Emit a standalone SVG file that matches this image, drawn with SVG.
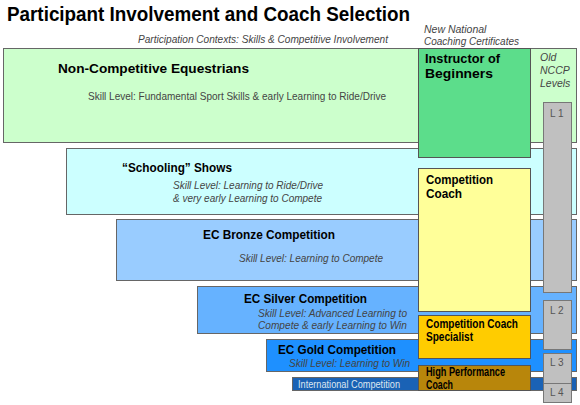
<svg xmlns="http://www.w3.org/2000/svg" width="580" height="405" viewBox="0 0 580 405">
<style>
text{font-family:"Liberation Sans",Arial,sans-serif}
.band{stroke:#666;stroke-width:1}
.box{stroke:#555;stroke-width:1}
.lv{fill:#C0C0C0;stroke:#777;stroke-width:1}
.h{font-weight:bold;font-size:13px;fill:#000}
.hc{font-weight:bold;font-size:12px;fill:#000}
.s{font-size:10.5px;fill:#444}
.si{font-size:10.5px;fill:#444;font-style:italic}
.lt{font-size:10px;fill:#555}
</style>
<rect width="580" height="405" fill="#fff"/>
<text x="7" y="21" font-weight="bold" font-size="21" fill="#000" textLength="403" lengthAdjust="spacingAndGlyphs">Participant Involvement and Coach Selection</text>
<text x="138" y="43" class="si" textLength="250" lengthAdjust="spacingAndGlyphs">Participation Contexts: Skills &amp; Competitive Involvement</text>
<text x="424" y="33" class="si">New National</text>
<text x="424" y="45" class="si" textLength="95" lengthAdjust="spacingAndGlyphs">Coaching Certificates</text>

<g id="band-noncompetitive">
<rect class="band" x="3.5" y="48.5" width="573" height="94" fill="#CCFFCC"/>
<text x="58" y="73" class="h" textLength="191" lengthAdjust="spacingAndGlyphs">Non-Competitive Equestrians</text>
<text x="88" y="100" class="s" textLength="298" lengthAdjust="spacingAndGlyphs">Skill Level: Fundamental Sport Skills &amp; early Learning to Ride/Drive</text>
</g>
<g id="band-schooling">
<rect class="band" x="66.5" y="148.5" width="510" height="66" fill="#CCFFFF"/>
<text x="122" y="172" class="h" textLength="110" lengthAdjust="spacingAndGlyphs">“Schooling” Shows</text>
<text x="173" y="189" class="si" textLength="150" lengthAdjust="spacingAndGlyphs">Skill Level: Learning to Ride/Drive</text>
<text x="173" y="202" class="si" textLength="149" lengthAdjust="spacingAndGlyphs">&amp; very early Learning to Compete</text>
</g>
<g id="band-bronze">
<rect class="band" x="116.5" y="219.5" width="460" height="61" fill="#99CCFF"/>
<text x="203" y="239" class="h" textLength="132" lengthAdjust="spacingAndGlyphs">EC Bronze Competition</text>
<text x="239" y="262" class="si" textLength="144" lengthAdjust="spacingAndGlyphs">Skill Level: Learning to Compete</text>
</g>
<g id="band-silver">
<rect class="band" x="197.5" y="286.5" width="379" height="47" fill="#66B2FF"/>
<text x="244" y="303" class="h" textLength="123" lengthAdjust="spacingAndGlyphs">EC Silver Competition</text>
<text x="258" y="317" class="si" textLength="149" lengthAdjust="spacingAndGlyphs">Skill Level: Advanced Learning to</text>
<text x="258" y="329" class="si" textLength="149" lengthAdjust="spacingAndGlyphs">Compete &amp; early Learning to Win</text>
</g>
<g id="band-gold">
<rect class="band" x="266.5" y="339.5" width="310" height="32" fill="#1E90FF"/>
<text x="278" y="354" class="h" textLength="118" lengthAdjust="spacingAndGlyphs">EC Gold Competition</text>
<text x="289" y="367" class="si" fill="#333" textLength="121" lengthAdjust="spacingAndGlyphs">Skill Level: Learning to Win</text>
</g>
<g id="band-international">
<rect class="band" x="292.5" y="377.5" width="284" height="13" fill="#1A62B5"/>
<text x="298" y="388" font-size="10" fill="#DDE6F0" textLength="102" lengthAdjust="spacingAndGlyphs">International Competition</text>
</g>

<g id="coach-instructor">
<rect class="box" x="418.5" y="48.5" width="112" height="109" fill="#5CDD8B"/>
<text x="425" y="63" class="h" textLength="75" lengthAdjust="spacingAndGlyphs">Instructor of</text>
<text x="425" y="78" class="h" textLength="68" lengthAdjust="spacingAndGlyphs">Beginners</text>
</g>
<g id="coach-competition">
<rect class="box" x="418.5" y="168.5" width="112" height="143" fill="#FFFF99"/>
<text x="426" y="184" class="hc" textLength="67" lengthAdjust="spacingAndGlyphs">Competition</text>
<text x="426" y="198" class="hc" textLength="36" lengthAdjust="spacingAndGlyphs">Coach</text>
</g>
<g id="coach-specialist">
<rect class="box" x="418.5" y="315.5" width="112" height="43" fill="#FFCC00"/>
<text x="426" y="328" class="hc" font-size="11.5" textLength="92" lengthAdjust="spacingAndGlyphs">Competition Coach</text>
<text x="426" y="341" class="hc" font-size="11.5" textLength="47" lengthAdjust="spacingAndGlyphs">Specialist</text>
</g>
<g id="coach-highperformance">
<rect class="box" x="418.5" y="365.5" width="112" height="25" fill="#B8860B"/>
<text x="426" y="376" class="hc" font-size="10" textLength="79" lengthAdjust="spacingAndGlyphs">High Performance</text>
<text x="426" y="389" class="hc" font-size="10" textLength="27" lengthAdjust="spacingAndGlyphs">Coach</text>
</g>

<g id="old-nccp">
<text x="540" y="61" class="si">Old</text>
<text x="540" y="74" class="si">NCCP</text>
<text x="540" y="87" class="si">Levels</text>
</g>
<g id="level-1">
<rect class="lv" x="543.5" y="102.5" width="28" height="190"/>
<text x="550" y="117" class="lt">L 1</text>
</g>
<g id="level-2">
<rect class="lv" x="543.5" y="300.5" width="28" height="49"/>
<text x="550" y="314" class="lt">L 2</text>
</g>
<g id="level-3">
<rect class="lv" x="543.5" y="353.5" width="28" height="30"/>
<text x="550" y="366" class="lt">L 3</text>
</g>
<g id="level-4">
<rect class="lv" x="543.5" y="383.5" width="28" height="19"/>
<text x="550" y="396" class="lt">L 4</text>
</g>
<g id="connectors"/>
</svg>
